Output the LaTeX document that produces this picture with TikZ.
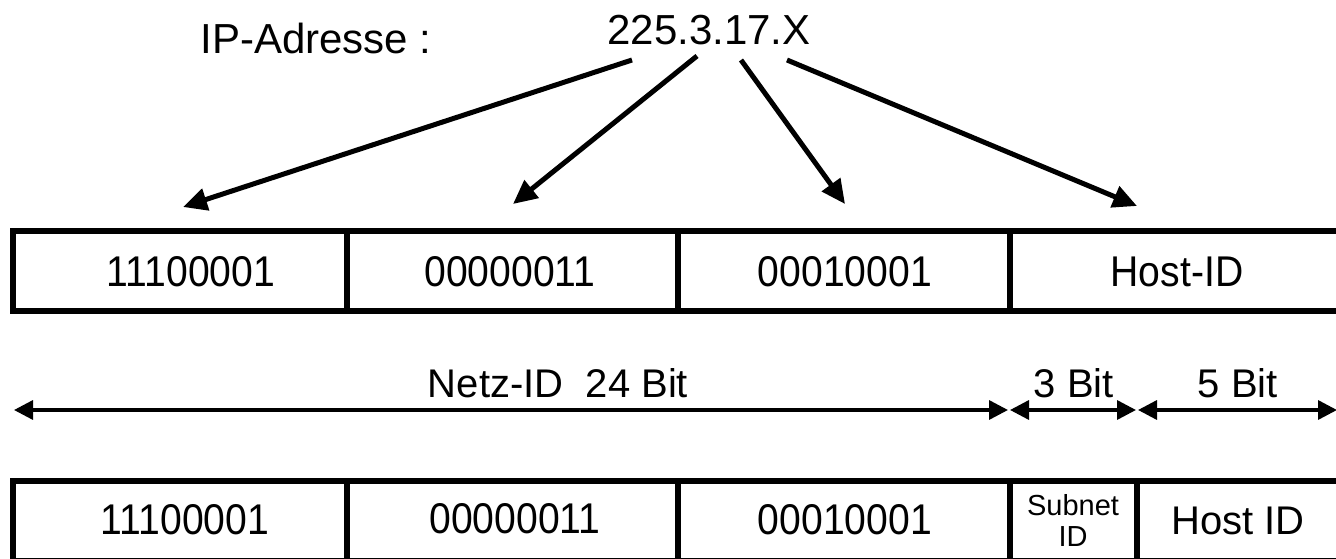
\documentclass[tikz,border=0pt]{standalone}
\usepackage{fontspec}
\setmainfont{Liberation Sans}
\newfontfamily\narrowfont{Liberation Sans}[FakeStretch=0.91]
\usetikzlibrary{arrows.meta}
\begin{document}
\begin{tikzpicture}[x=1pt,y=-1pt,
  cell/.style={draw=black,line width=6.5pt,inner sep=0pt,outer sep=0pt,minimum height=80pt},
  lbl/.style={font=\fontsize{40}{40}\selectfont,inner sep=0pt},
  bits/.style={font=\narrowfont\fontsize{43}{43}\selectfont,inner sep=0pt},
  head/.style={font=\fontsize{42}{42}\selectfont,inner sep=0pt},
  small/.style={font=\fontsize{29}{31}\selectfont,inner sep=0pt,align=center},
  pointer/.style={line width=5pt,-{Triangle[length=24pt,width=22pt]}},
  dim/.style={line width=3.4pt,{Triangle[length=19pt,width=19pt]}-{Triangle[length=19pt,width=19pt]}}]
\useasboundingbox (0,0) rectangle (1336,559);
\begin{scope}
\clip (0,0) rectangle (1336,559);
% header
\node[head] (iplbl) at (316,38) {IP-Adresse :};
\node[head] (ip) at (709,30) {225.3.17.X};
% upper row of octets
\node[cell,minimum width=334pt] (u1) at (180,271) {};
\node[cell,minimum width=331pt] (u2) at (512.5,271) {};
\node[cell,minimum width=332pt] (u3) at (844,271) {};
\node[cell,minimum width=335pt] (u4) at (1177.5,271) {};
\node[bits] (u1t) at (191,272) {11100001};
\node[bits] (u2t) at (510,272) {00000011};
\node[bits] (u3t) at (845,272) {00010001};
\node[bits] (u4t) at (1177,272) {Host-ID};
% pointers from the dotted address to the octets
\coordinate (s1) at (632,60);  \coordinate (t1) at (183,207);
\coordinate (s2) at (697,56);  \coordinate (t2) at (513,204);
\coordinate (s3) at (741,60);  \coordinate (t3) at (845,204);
\coordinate (s4) at (787,60);  \coordinate (t4) at (1137,206);
\draw[pointer] (s1) -- (t1);
\draw[pointer] (s2) -- (t2);
\draw[pointer] (s3) -- (t3);
\draw[pointer] (s4) -- (t4);
% bit-width dimension lines
\coordinate (d0) at (14,410);
\coordinate (d1) at (1009,410);
\coordinate (d2) at (1137,410);
\coordinate (d3) at (1337,410);
\draw[dim] (d0) -- ([xshift=-1pt]d1);
\draw[dim] ([xshift=1pt]d1) -- ([xshift=-1pt]d2);
\draw[dim] ([xshift=1pt]d2) -- (d3);
\node[lbl,anchor=base] (net) at (558,397) {Netz-ID\hspace{0.28em} 24 Bit};
\node[lbl,anchor=base] (b3) at (1074,397) {3 Bit};
\node[lbl,anchor=base] (b5) at (1238,397) {5 Bit};
% lower row with subnet split
\node[cell,minimum width=334pt] (l1) at (180,521) {};
\node[cell,minimum width=331pt] (l2) at (512.5,521) {};
\node[cell,minimum width=332pt] (l3) at (844,521) {};
\node[cell,minimum width=127pt] (l4) at (1073.5,521) {};
\node[cell,minimum width=208pt] (l5) at (1241,521) {};
\node[bits] (l1t) at (185,520) {11100001};
\node[bits] (l2t) at (515,519) {00000011};
\node[bits] (l3t) at (845,520) {00010001};
\node[small] (l4t) at (1073,520) {Subnet\\ID};
\node[lbl] (l5t) at (1238,521) {Host ID};
\end{scope}
\end{tikzpicture}
\end{document}
